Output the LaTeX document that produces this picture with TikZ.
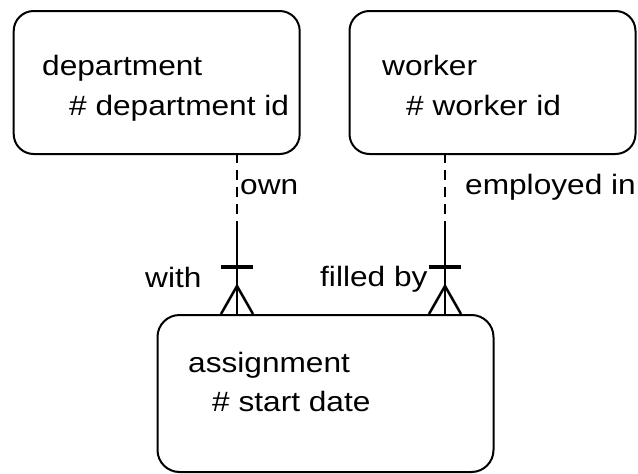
\documentclass[tikz,border=0pt]{standalone}
\usepackage{fontspec}
\setmainfont{Liberation Sans}[FakeStretch=1.13]
\begin{document}
\begin{tikzpicture}[x=1pt,y=-1pt,
  entity/.style={draw, line width=2pt, rounded corners=20pt, inner sep=0pt},
  lbl/.style={anchor=base west, inner sep=0pt, font=\fontsize{28}{33}\selectfont},
  reldash/.style={line width=2.8pt, dash pattern=on 10pt off 7pt},
  relsolid/.style={line width=2.8pt},
  onebar/.style={line width=4.5pt},
  crow/.style={line width=2.5pt}
]
\useasboundingbox (0,0) rectangle (638,474);

% entity boxes
\node[entity, minimum width=286pt, minimum height=143pt, anchor=north west] (dept) at (12.7,10) {};
\node[entity, minimum width=286pt, minimum height=143pt, anchor=north west] (work) at (348.5,10) {};
\node[entity, minimum width=336pt, minimum height=157pt, anchor=north west, rounded corners=22pt] (assign) at (156.5,314) {};

% entity names and keys
\node[lbl] (deptname) at (42,75) {department};
\node[lbl] (deptkey)  at (69,115) {\# department id};
\node[lbl] (workname) at (382,75) {worker};
\node[lbl] (workkey)  at (406,115) {\# worker id};
\node[lbl] (assignname) at (188,372) {assignment};
\node[lbl] (assignkey)  at (212,411) {\# start date};

% relationship ends on the box edges
\coordinate (dA) at (237,153);
\coordinate (dB) at (237,230);
\coordinate (dC) at (237,314);
\coordinate (wA) at (445,153);
\coordinate (wB) at (445,230);
\coordinate (wC) at (445,314);

% department -- assignment
\draw[reldash] (dA) -- (dB);
\draw[relsolid] (dB) -- (dC);
\draw[onebar] ([xshift=-16pt,yshift=47pt]dC) coordinate (dbarL) -- ([xshift=16pt,yshift=47pt]dC) coordinate (dbarR);
\coordinate (dApex) at ([yshift=28pt]dC);
\draw[crow] ([xshift=-16pt]dC) coordinate (dfL) -- (dApex) -- ([xshift=16pt]dC) coordinate (dfR);

% worker -- assignment
\draw[reldash] (wA) -- (wB);
\draw[relsolid] (wB) -- (wC);
\draw[onebar] ([xshift=-16pt,yshift=47pt]wC) coordinate (wbarL) -- ([xshift=16pt,yshift=47pt]wC) coordinate (wbarR);
\coordinate (wApex) at ([yshift=28pt]wC);
\draw[crow] ([xshift=-16pt]wC) coordinate (wfL) -- (wApex) -- ([xshift=16pt]wC) coordinate (wfR);

% relationship names
\node[lbl] (own) at (240,194) {own};
\node[lbl] (empl) at (465,194) {employed in};
\node[lbl] (with) at (145,287) {with};
\node[lbl] (filled) at (320,286) {filled by};
\end{tikzpicture}
\end{document}
